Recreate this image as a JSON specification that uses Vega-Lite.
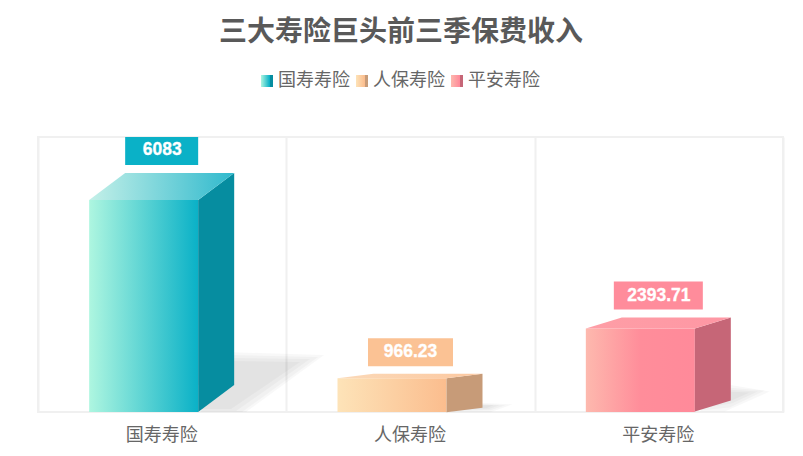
{
  "$schema": "https://vega.github.io/schema/vega-lite/v6.json",
  "width": 745,
  "height": 275,
  "autosize": "none",
  "padding": {"left": 38, "top": 137, "right": 20, "bottom": 44},
  "background": "white",
  "title": {
    "text": "三大寿险巨头前三季保费收入",
    "font": "Noto Sans CJK SC",
    "fontSize": 28,
    "fontWeight": "bold",
    "color": "#595959",
    "anchor": "middle",
    "baseline": "middle",
    "dx": -9.5,
    "offset": 11
  },
  "config": {
    "view": {"stroke": "#f0f0f0", "strokeWidth": 2},
    "font": "Noto Sans CJK SC"
  },
  "data": {
    "values": [
      {"company": "国寿寿险", "value": 6083},
      {"company": "人保寿险", "value": 966.23},
      {"company": "平安寿险", "value": 2393.71}
    ]
  },
  "encoding": {
    "x": {
      "field": "company",
      "type": "nominal",
      "sort": null,
      "title": null,
      "scale": {"paddingInner": 0, "paddingOuter": 0},
      "axis": {
        "grid": true,
        "gridColor": "#f0f0f0",
        "gridWidth": 2,
        "tickBand": "extent",
        "ticks": false,
        "domain": false,
        "labelAngle": 0,
        "labelFontSize": 18,
        "labelColor": "#666666",
        "labelPadding": 14,
        "labelOffset": -1,
        "labelFont": "Noto Sans CJK SC"
      }
    }
  },
  "layer": [
    {
      "mark": {"type": "point", "filled": true, "size": 4, "opacity": 0.027, "color": "#000000"},
      "encoding": {
        "y": {"field": "value", "type": "quantitative", "scale": {"domain": [0, 7890]}, "axis": null},
        "shape": {"field": "company", "legend": null, "scale": {"domain": ["国寿寿险", "人保寿险", "平安寿险"], "range": [
          "M38,212L84,212L162,155L64,152Z",
          "M40,34L80,34L102,26L60,24Z",
          "M41,83L66,83L111,63L69,56Z"
        ]}}
      }
    },
    {
      "mark": {"type": "point", "filled": true, "size": 4, "opacity": 0.027, "color": "#000000"},
      "encoding": {
        "y": {"field": "value", "type": "quantitative", "scale": {"domain": [0, 7890]}, "axis": null},
        "shape": {"field": "company", "legend": null, "scale": {"domain": ["国寿寿险", "人保寿险", "平安寿险"], "range": [
          "M38,212L80,212L156,157L68,155Z",
          "M40,33L80,32L95,27L60,25Z",
          "M41,82L71,79L106,62L69,59Z"
        ]}}
      }
    },
    {
      "mark": {"type": "point", "filled": true, "size": 4, "opacity": 0.027, "color": "#000000"},
      "encoding": {
        "y": {"field": "value", "type": "quantitative", "scale": {"domain": [0, 7890]}, "axis": null},
        "shape": {"field": "company", "legend": null, "scale": {"domain": ["国寿寿险", "人保寿险", "平安寿险"], "range": [
          "M38,211L74,211L148,159L68,158Z",
          "M40,32L78,31L89,27L60,26Z",
          "M41,80L73,75L99,63L69,61Z"
        ]}}
      }
    },
    {
      "mark": {"type": "point", "filled": true, "size": 4, "opacity": 0.027, "color": "#000000"},
      "encoding": {
        "y": {"field": "value", "type": "quantitative", "scale": {"domain": [0, 7890]}, "axis": null},
        "shape": {"field": "company", "legend": null, "scale": {"domain": ["国寿寿险", "人保寿险", "平安寿险"], "range": [
          "M38,209L69,209L138,162L68,161Z",
          "M40,31L76,30L83,27L60,27Z",
          "M41,76L73,72L91,64L69,63Z"
        ]}}
      }
    },
    {
      "mark": {"type": "bar", "width": 109, "xOffset": -18.5},
      "encoding": {
        "y": {"field": "value", "type": "quantitative", "scale": {"domain": [0, 7890]}, "axis": null, "stack": null},
        "fill": {
          "condition": [
            {"test": "datum.company === '国寿寿险'", "value": {"gradient": "linear", "x1": 0, "y1": 0, "x2": 1, "y2": 0, "stops": [{"offset": 0, "color": "#aef6e0"}, {"offset": 1, "color": "#0ab1c7"}]}},
            {"test": "datum.company === '人保寿险'", "value": {"gradient": "linear", "x1": 0, "y1": 0, "x2": 1, "y2": 0, "stops": [{"offset": 0, "color": "#fde3b8"}, {"offset": 1, "color": "#fbbd8e"}]}}
          ],
          "value": {"gradient": "linear", "x1": 0, "y1": 0, "x2": 1, "y2": 0, "stops": [{"offset": 0, "color": "#fdb9ae"}, {"offset": 0.5, "color": "#ff8d9a"}, {"offset": 1, "color": "#ff8a9a"}]}
        }
      }
    },
    {
      "mark": {"type": "point", "filled": true, "size": 4},
      "encoding": {
        "y": {"field": "value", "type": "quantitative", "scale": {"domain": [0, 7890]}, "axis": null},
        "fill": {
          "condition": [
            {"test": "datum.company === '国寿寿险'", "value": "#068da0"},
            {"test": "datum.company === '人保寿险'", "value": "#c79b78"}
          ],
          "value": "#c66677"
        },
        "opacity": {
          "field": "company",
          "type": "nominal",
          "sort": null,
          "scale": {"domain": ["国寿寿险", "人保寿险", "平安寿险"], "range": [1, 1, 1]},
          "legend": {
            "title": null,
            "orient": "none",
            "legendX": 220,
            "legendY": -65,
            "direction": "horizontal",
            "columns": 3,
            "columnPadding": 3,
            "symbolType": "square",
            "symbolSize": 144,
            "symbolStrokeWidth": 0,
            "labelFontSize": 18,
            "labelColor": "#666666",
            "labelOffset": 2,
            "labelFont": "Noto Sans CJK SC",
            "encoding": {
              "symbols": {
                "fill": {
                  "condition": [
                    {"test": "datum.value === '国寿寿险'", "value": {"gradient": "linear", "x1": 0, "y1": 0, "x2": 1, "y2": 0, "stops": [{"offset": 0, "color": "#aef6e0"}, {"offset": 0.72, "color": "#0ab1c7"}, {"offset": 0.72, "color": "#068da0"}, {"offset": 1, "color": "#068da0"}]}},
                    {"test": "datum.value === '人保寿险'", "value": {"gradient": "linear", "x1": 0, "y1": 0, "x2": 1, "y2": 0, "stops": [{"offset": 0, "color": "#fde3b8"}, {"offset": 0.72, "color": "#fbbd8e"}, {"offset": 0.72, "color": "#c79b78"}, {"offset": 1, "color": "#c79b78"}]}}
                  ],
                  "value": {"gradient": "linear", "x1": 0, "y1": 0, "x2": 1, "y2": 0, "stops": [{"offset": 0, "color": "#fdb9ae"}, {"offset": 0.72, "color": "#ff8a9a"}, {"offset": 0.72, "color": "#c66677"}, {"offset": 1, "color": "#c66677"}]}
                }
              }
            }
          }
        },
        "shape": {"field": "company", "legend": null, "scale": {"domain": ["国寿寿险", "人保寿险", "平安寿险"], "range": [
          "M36,0L72,-27L72,185L36,212Z",
          "M36,0L72,-4.5L72,29.5L36,34Z",
          "M36,0L72,-11L72,72L36,83Z"
        ]}}
      }
    },
    {
      "mark": {"type": "point", "filled": true, "size": 4, "opacity": 1},
      "encoding": {
        "y": {"field": "value", "type": "quantitative", "scale": {"domain": [0, 7890]}, "axis": null},
        "fill": {
          "condition": [
            {"test": "datum.company === '国寿寿险'", "value": {"gradient": "linear", "x1": 0, "y1": 0, "x2": 1, "y2": 0, "stops": [{"offset": 0, "color": "#c4f0e8"}, {"offset": 1, "color": "#2fb9cd"}]}},
            {"test": "datum.company === '人保寿险'", "value": {"gradient": "linear", "x1": 0, "y1": 0, "x2": 1, "y2": 0, "stops": [{"offset": 0, "color": "#fbd9b8"}, {"offset": 1, "color": "#fcc8a0"}]}}
          ],
          "value": {"gradient": "linear", "x1": 0, "y1": 0, "x2": 1, "y2": 0, "stops": [{"offset": 0, "color": "#fe9ea6"}, {"offset": 1, "color": "#fe97a4"}]}
        },
        "shape": {"field": "company", "legend": null, "scale": {"domain": ["国寿寿险", "人保寿险", "平安寿险"], "range": [
          "M-73,0L-37,-27L72,-27L36,0Z",
          "M-73,0L-37,-4.5L72,-4.5L36,0Z",
          "M-73,0L-37,-11L72,-11L36,0Z"
        ]}}
      }
    },
    {
      "mark": {"type": "point", "filled": true, "size": 4, "opacity": 1},
      "encoding": {
        "y": {"field": "value", "type": "quantitative", "scale": {"domain": [0, 7890]}, "axis": null},
        "fill": {
          "condition": [
            {"test": "datum.company === '国寿寿险'", "value": "#0ab1c7"},
            {"test": "datum.company === '人保寿险'", "value": "#fbc294"}
          ],
          "value": "#ff8c9b"
        },
        "shape": {"field": "company", "legend": null, "scale": {"domain": ["国寿寿险", "人保寿险", "平安寿险"], "range": [
          "M-37,-63L36,-63L36,-35L-37,-35Z",
          "M-42.5,-40L42.5,-40L42.5,-12L-42.5,-12Z",
          "M-45,-47L44,-47L44,-19L-45,-19Z"
        ]}}
      }
    },
    {
      "mark": {
        "type": "text",
        "font": "Liberation Sans",
        "fontSize": 17.5,
        "fontWeight": "bold",
        "color": "white",
        "stroke": "white",
        "strokeWidth": 0.3,
        "baseline": "middle",
        "dy": -22
      },
      "encoding": {
        "y": {"field": "value", "type": "quantitative", "scale": {"domain": [0, 6982]}, "axis": null},
        "text": {"field": "value", "type": "nominal"}
      }
    }
  ],
  "resolve": {
    "scale": {"shape": "independent", "y": "independent"},
    "axis": {"x": "shared"}
  }
}
